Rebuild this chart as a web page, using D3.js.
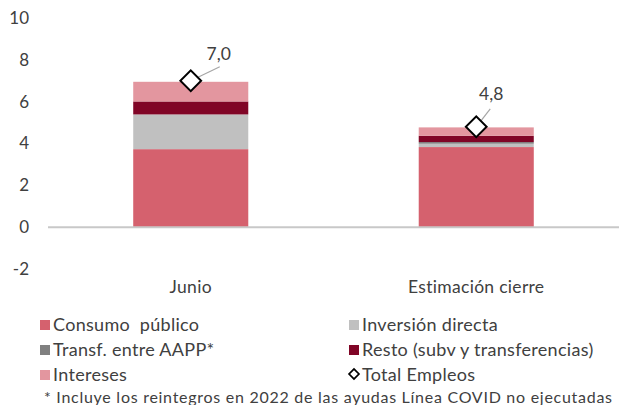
<!DOCTYPE html>
<html>
<head>
<meta charset="utf-8">
<script src="https://cdn.jsdelivr.net/npm/d3@7"></script>
<style>
  body { margin: 0; background: #fff; }
  svg { display: block; font-family: Lato, "Open Sans", sans-serif; }
</style>
</head>
<body>
<svg id="chart"></svg>
<script>
const width = 619;
const height = 405;

// data
const categories = ["Junio", "Estimación cierre"];
const seriesNames = ["Consumo  público", "Inversión directa", "Transf. entre AAPP*", "Resto (subv y transferencias)", "Intereses"];
const consumo = [3.73, 3.83];
const inversion = [1.66, 0.16];
const transf = [0.0, 0.08];
const resto = [0.62, 0.30];
const intereses = [0.94, 0.40];
const totalEmpleos = [7.0, 4.8];
const yTicks = [-2, 0, 2, 4, 6, 8, 10];
const colors = ["#d5616e", "#c0c0c0", "#808080", "#800526", "#e3969f"];

const series = [consumo, inversion, transf, resto, intereses];

const svg = d3.select("#chart")
  .attr("width", width)
  .attr("height", height);

const x = d3.scaleBand()
  .domain(categories)
  .range([48, 619])
  .paddingInner(0.597)
  .paddingOuter(0.2985);

const y = d3.scaleLinear()
  .domain([-2, 10])
  .range([269, 18]);

// y axis labels
svg.append("g")
  .selectAll("text")
  .data(yTicks)
  .join("text")
  .attr("x", 29)
  .attr("y", d => y(d))
  .attr("dy", "0.35em")
  .attr("text-anchor", "end")
  .attr("font-size", 17)
  .attr("fill", "#404040")
  .text(d => d);

// stacked bars
const rows = categories.map((c, i) => {
  const r = { cat: c };
  seriesNames.forEach((s, k) => r[s] = series[k][i]);
  return r;
});
const stack = d3.stack().keys(seriesNames)(rows);

svg.append("g")
  .selectAll("g")
  .data(stack)
  .join("g")
  .attr("fill", (d, k) => colors[k])
  .selectAll("rect")
  .data(d => d)
  .join("rect")
  .attr("x", d => x(d.data.cat))
  .attr("width", x.bandwidth())
  .attr("y", d => y(d[1]))
  .attr("height", d => Math.max(0, y(d[0]) - y(d[1])));

// zero line
svg.append("line")
  .attr("x1", 48)
  .attr("x2", 619)
  .attr("y1", y(0))
  .attr("y2", y(0))
  .style("stroke", "#c8c8c8")
  .style("stroke-width", 2);

// category labels
svg.append("g")
  .selectAll("text")
  .data(categories)
  .join("text")
  .attr("x", d => x(d) + x.bandwidth() / 2)
  .attr("y", 293)
  .attr("text-anchor", "middle")
  .attr("font-size", 17.5)
  .attr("letter-spacing", 0.3)
  .attr("fill", "#404040")
  .text(d => d);

// total markers with leader lines and labels
const labelOffset = [[29, -14], [14, -18]];
const labelPos = [[28, -21], [15, -27]];
const diamond = d3.symbol().type(d3.symbolSquare).size(215);

totalEmpleos.forEach((v, i) => {
  const cx = x(categories[i]) + x.bandwidth() / 2;
  const cy = y(v);
  svg.append("line")
    .attr("x1", cx)
    .attr("y1", cy)
    .attr("x2", cx + labelOffset[i][0])
    .attr("y2", cy + labelOffset[i][1])
    .style("stroke", "#a6a6a6")
    .style("stroke-width", 1.2);
  svg.append("path")
    .attr("d", diamond())
    .attr("transform", `translate(${cx},${cy}) rotate(45)`)
    .style("fill", "#fff")
    .style("stroke", "#000")
    .style("stroke-width", 2);
  svg.append("text")
    .attr("x", cx + labelPos[i][0])
    .attr("y", cy + labelPos[i][1])
    .attr("text-anchor", "middle")
    .attr("font-size", 17.5)
    .attr("fill", "#404040")
    .text(d3.format(".1f")(v).replace(".", ","));
});

// legend
const legendItems = seriesNames.map((s, k) => ({ name: s, color: colors[k], type: "box" }));
legendItems.push({ name: "Total Empleos", type: "diamond" });
const legendPos = [[40, 325], [349, 325], [40, 350], [349, 350], [40, 375], [349, 375]];

const legend = svg.append("g")
  .selectAll("g")
  .data(legendItems)
  .join("g")
  .attr("transform", (d, i) => `translate(${legendPos[i][0]},${legendPos[i][1]})`);

legend.filter(d => d.type === "box")
  .append("rect")
  .attr("x", 0)
  .attr("y", -5)
  .attr("width", 10)
  .attr("height", 10)
  .attr("fill", d => d.color);

legend.filter(d => d.type === "diamond")
  .append("path")
  .attr("d", d3.symbol().type(d3.symbolSquare).size(50)())
  .attr("transform", "translate(5,-1) rotate(45)")
  .style("fill", "#fff")
  .style("stroke", "#000")
  .style("stroke-width", 1.6);

legend.append("text")
  .attr("x", 13)
  .attr("y", 0)
  .attr("dy", "0.35em")
  .attr("font-size", 18)
  .attr("letter-spacing", 0.3)
  .attr("fill", "#404040")
  .style("white-space", "pre")
  .text(d => d.name);

svg.append("text")
  .attr("x", 44)
  .attr("y", 403)
  .attr("font-size", 16)
  .attr("textLength", 568)
  .attr("lengthAdjust", "spacing")
  .attr("fill", "#404040")
  .text("* Incluye los reintegros en 2022 de las ayudas Línea COVID no ejecutadas");
</script>
</body>
</html>
